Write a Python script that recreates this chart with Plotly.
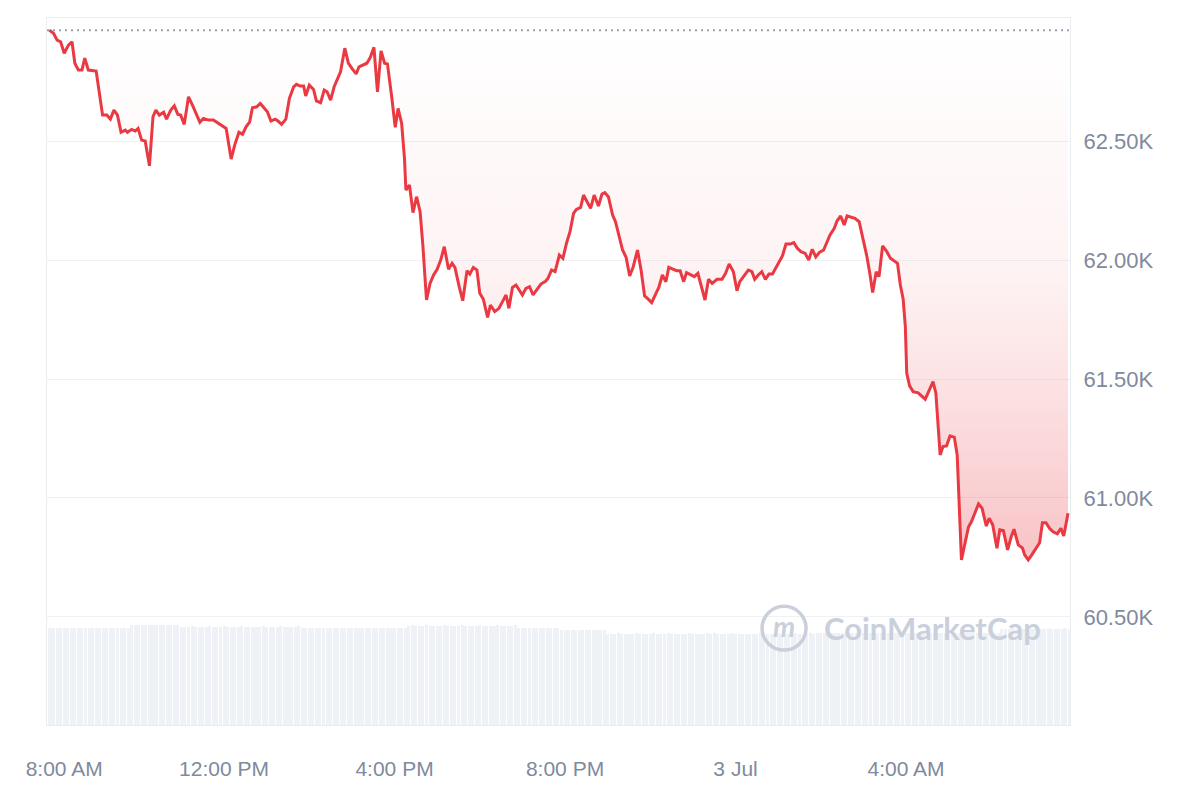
import numpy as np
import plotly.graph_objects as go

# ---- data ----
# minutes relative to 2 Jul 08:00
minutes = [
    -6, 0, 5, 10, 15, 21, 26, 30, 35, 40,
    44, 49, 60, 69, 75, 80, 85, 90, 95, 101,
    104, 110, 115, 119, 124, 129, 135, 140, 144, 149,
    155, 159, 165, 170, 175, 179, 184, 190, 196, 202,
    206, 211, 218, 225, 232, 238, 243, 250, 255, 261,
    266, 271, 276, 280, 286, 291, 296, 301, 306, 312,
    316, 321, 327, 332, 338, 342, 347, 352, 355, 360,
    366, 370, 376, 381, 385, 390, 395, 399, 404, 410,
    415, 420, 426, 430, 435, 441, 446, 451, 456, 461,
    466, 470, 476, 481, 485, 490, 494, 496, 501, 506,
    511, 516, 520, 525, 530, 535, 540, 545, 550, 556,
    561, 565, 571, 576, 582, 586, 591, 596, 600, 605,
    611, 615, 621, 627, 632, 637, 641, 646, 651, 656,
    660, 665, 670, 675, 681, 686, 692, 696, 701, 706,
    712, 717, 722, 727, 732, 736, 742, 746, 751, 756,
    761, 767, 772, 776, 781, 787, 791, 796, 801, 806,
    811, 816, 822, 827, 832, 836, 842, 848, 852, 857,
    862, 866, 872, 877, 882, 887, 891, 897, 902, 907,
    911, 917, 922, 927, 934, 941, 946, 951, 957, 962,
    966, 972, 978, 983, 987, 992, 997, 1002, 1007, 1012,
    1017, 1022, 1026, 1031, 1037, 1042, 1047, 1052, 1058, 1063,
    1068, 1073, 1078, 1084, 1089, 1093, 1099, 1103, 1108, 1113,
    1117, 1122, 1128, 1134, 1139, 1145, 1149, 1153, 1158, 1162,
    1167, 1173, 1178, 1183, 1188, 1192, 1196, 1199, 1201, 1205,
    1210, 1217, 1222, 1227, 1231, 1238, 1242, 1244, 1248, 1252,
    1257, 1262, 1268, 1272, 1275, 1278, 1283, 1288, 1292, 1297,
    1302, 1307, 1313, 1317, 1322, 1328, 1332, 1337, 1343, 1348,
    1352, 1358, 1364, 1367, 1372, 1377, 1382, 1388, 1392, 1397,
    1402, 1407, 1413, 1418, 1422, 1428,
]

price = [
    62966, 62953, 62924, 62917, 62869, 62903, 62917, 62827, 62798, 62798,
    62848, 62798, 62794, 62609, 62609, 62592, 62630, 62609, 62537, 62546,
    62537, 62549, 62542, 62553, 62504, 62500, 62396, 62602, 62630, 62609,
    62621, 62592, 62630, 62648, 62612, 62609, 62570, 62686, 62648, 62609,
    62579, 62595, 62588, 62588, 62574, 62564, 62553, 62424, 62483, 62537,
    62528, 62560, 62579, 62640, 62644, 62658, 62640, 62623, 62584, 62592,
    62584, 62570, 62592, 62679, 62728, 62738, 62731, 62731, 62689, 62735,
    62717, 62669, 62661, 62714, 62707, 62672, 62728, 62756, 62791, 62890,
    62827, 62805, 62782, 62812, 62819, 62827, 62852, 62894, 62707, 62879,
    62827, 62824, 62686, 62558, 62637, 62574, 62427, 62294, 62315, 62199,
    62266, 62203, 62056, 61832, 61902, 61937, 61961, 62000, 62056, 61961,
    61986, 61969, 61888, 61829, 61955, 61941, 61969, 61958, 61860, 61835,
    61759, 61811, 61783, 61797, 61825, 61853, 61797, 61885, 61895, 61874,
    61853, 61881, 61888, 61853, 61877, 61899, 61909, 61923, 61958, 61951,
    62021, 62007, 62070, 62119, 62196, 62213, 62221, 62273, 62245, 62217,
    62273, 62227, 62277, 62283, 62266, 62189, 62161, 62105, 62042, 62011,
    61933, 61972, 62042, 61958, 61849, 61839, 61821, 61860, 61885, 61937,
    61909, 61969, 61961, 61955, 61955, 61909, 61947, 61937, 61930, 61944,
    61895, 61832, 61919, 61902, 61919, 61919, 61944, 61983, 61951, 61871,
    61909, 61933, 61958, 61951, 61919, 61937, 61951, 61919, 61941, 61941,
    61969, 62000, 62017, 62067, 62067, 62073, 62049, 62035, 62028, 62000,
    62045, 62013, 62032, 62042, 62077, 62105, 62133, 62165, 62185, 62147,
    62185, 62179, 62175, 62161, 62098, 62014, 61944, 61863, 61951, 61930,
    62059, 62035, 62007, 61997, 61986, 61895, 61835, 61720, 61524, 61471,
    61447, 61442, 61429, 61415, 61442, 61489, 61440, 61342, 61181, 61216,
    61219, 61261, 61255, 61181, 60978, 60740, 60810, 60879, 60900, 60942,
    60975, 60957, 60882, 60915, 60887, 60789, 60866, 60863, 60782, 60837,
    60869, 60803, 60789, 60761, 60740, 60761, 60784, 60812, 60896, 60896,
    60873, 60858, 60849, 60873, 60840, 60936,
]

open_price = 62966

# 24h volume (billions USD), one bar per 5 minutes starting at 07:55
volume_bn = [
    27.4, 27.3, 27.4, 27.5, 27.4, 27.3, 27.4, 27.4, 27.5, 27.3,
    27.4, 27.4, 27.3, 27.4, 27.5, 27.4, 27.3, 27.4, 27.4, 27.5,
    27.4, 27.3, 27.4,
    28.2, 28.3, 28.4, 28.3, 28.2, 28.3, 28.3, 28.4, 28.3, 28.2,
    28.3, 28.3, 28.4, 28.3,
    27.8, 27.7, 27.8, 27.9, 27.8, 27.7, 27.8, 27.8, 27.9, 27.8,
    27.7, 27.8, 27.9, 27.8, 27.8, 27.7, 27.8, 27.9, 27.8, 27.8,
    27.7, 27.8, 27.8, 27.9, 27.8, 27.7, 27.8, 27.8, 27.9, 27.8,
    27.7, 27.8, 27.8, 27.9,
    27.4, 27.3, 27.4, 27.5, 27.4, 27.4, 27.3, 27.4, 27.5, 27.4,
    27.3, 27.4, 27.4, 27.5, 27.4, 27.3, 27.4, 27.4, 27.5, 27.4,
    27.3, 27.4, 27.4, 27.5, 27.4, 27.3, 27.4, 27.4, 27.5, 27.4,
    28.1, 28.2, 28.1, 28.0, 28.1, 28.2, 28.1, 28.1, 28.0, 28.1,
    28.2, 28.1, 28.1, 28.0, 28.1, 28.2, 28.1, 28.1, 28.0, 28.1,
    28.2, 28.1, 28.1, 28.0, 28.1, 28.2, 28.1, 28.1, 28.0, 28.1,
    28.2,
    27.4, 27.3, 27.4, 27.5, 27.4, 27.3, 27.4, 27.4, 27.5, 27.4,
    27.3, 27.4,
    26.9, 26.8, 26.9, 27.0, 26.9, 26.8, 26.9, 26.9, 27.0, 26.9,
    26.8, 26.9, 26.9,
    25.8, 25.7, 25.8, 25.9, 25.8, 25.8, 25.7, 25.8, 25.9, 25.8,
    25.7, 25.8, 25.8, 25.9, 25.8, 25.7, 25.8, 25.9, 25.8, 25.8,
    25.8, 25.7, 25.8, 25.9, 25.8, 25.8, 25.7, 25.8, 25.9, 25.8,
    25.9, 25.8, 25.7, 25.8, 25.8, 25.9, 25.8, 25.7, 25.8, 25.8,
    25.8, 25.7, 25.8, 25.9, 25.8, 25.8, 25.7, 25.8, 25.9, 25.8,
    25.7, 25.8, 25.8, 25.9, 25.8, 25.7, 25.8, 25.9, 25.8, 25.9,
    26.0, 25.9, 26.0, 26.1, 26.0, 26.0, 25.9, 26.0, 26.1, 26.0,
    25.9, 26.0, 26.0, 26.1, 26.0, 25.9, 26.0, 26.1, 26.0, 26.0,
    26.0, 25.9, 26.0, 26.1, 26.0, 26.0, 25.9, 26.0, 26.1, 26.0,
    26.1, 26.0, 25.9, 26.0, 26.0, 26.1, 26.0, 25.9, 26.0, 26.0,
    26.0, 25.9, 26.0, 26.1, 26.0, 26.0, 25.9, 26.0, 26.1, 26.0,
    26.0,
    27.2, 27.1, 27.2, 27.3, 27.2, 27.2, 27.1, 27.2, 27.3, 27.2,
    27.2, 27.1, 27.2, 27.3, 27.2, 27.2, 27.1, 27.2, 27.3, 27.2,
]
volume_start_min = -5
volume_step_min = 5

tick_minutes = [15, 240, 480, 720, 960, 1200]
tick_labels = ["8:00 AM", "12:00 PM", "4:00 PM", "8:00 PM", "3 Jul", "4:00 AM"]
price_ticks = [60500, 61000, 61500, 62000, 62500]
price_tick_labels = ["60.50K", "61.00K", "61.50K", "62.00K", "62.50K"]

# ---- figure ----
RED = "#ea3943"
GRAY_TXT = "#808a9d"
WM = "#c9d0dc"
vol_x = volume_start_min + volume_step_min * np.arange(len(volume_bn))

fig = go.Figure()

fig.add_trace(go.Bar(
    x=vol_x, y=volume_bn, yaxis="y2", width=4.3,
    marker=dict(color="#eef1f5", line=dict(width=0)),
    hoverinfo="skip", showlegend=False,
))

# baseline (open price) used as the edge of the filled area
fig.add_trace(go.Scatter(
    x=[minutes[0], minutes[-1]], y=[open_price, open_price],
    mode="lines", line=dict(width=0, color="rgba(0,0,0,0)"),
    hoverinfo="skip", showlegend=False,
))

fig.add_trace(go.Scatter(
    x=minutes, y=price, mode="lines",
    line=dict(color=RED, width=3),
    fill="tonexty",
    fillgradient=dict(
        type="vertical",
        colorscale=[
            [0.0, "rgba(234,57,67,0.30)"],
            [0.3, "rgba(234,57,67,0.16)"],
            [0.55, "rgba(234,57,67,0.06)"],
            [1.0, "rgba(234,57,67,0.0)"],
        ],
        start=min(price), stop=open_price,
    ),
    showlegend=False,
))

# dotted open-price reference line across the chart
fig.add_shape(type="line", xref="paper", x0=0, x1=1, yref="y",
              y0=open_price, y1=open_price,
              line=dict(color="#9aa1ae", width=2, dash="2px,4px"))

# watermark
fig.add_shape(type="circle", xref="paper", yref="paper",
              x0=0.699, x1=0.742, y0=0.106, y1=0.168,
              line=dict(color=WM, width=3.5))
fig.add_annotation(xref="paper", yref="paper", x=0.7205, y=0.140,
                   xanchor="center", yanchor="middle",
                   text="<b><i>m</i></b>", showarrow=False,
                   font=dict(family="Lato", size=28, color=WM))
fig.add_annotation(xref="paper", yref="paper", x=0.866, y=0.137,
                   xanchor="center", yanchor="middle",
                   text="<b>CoinMarketCap</b>", showarrow=False,
                   font=dict(family="Lato", size=31, color=WM))

fig.update_layout(
    width=1200, height=800,
    margin=dict(l=39, r=138, t=10, b=83),
    paper_bgcolor="white", plot_bgcolor="white",
    showlegend=False,
    bargap=0,
    font=dict(family="Liberation Sans", color=GRAY_TXT),
    xaxis=dict(
        range=[-9.2, 1430.8], showgrid=False, zeroline=False,
        tickmode="array", tickvals=tick_minutes, ticktext=tick_labels,
        tickfont=dict(size=21, color=GRAY_TXT), ticks="",
        ticklabelstandoff=25,
        showline=True, linecolor="#e9ecf0", linewidth=1, mirror=True,
    ),
    yaxis=dict(
        side="right", range=[60046, 63017], zeroline=False,
        tickmode="array", tickvals=price_ticks, ticktext=price_tick_labels,
        tickfont=dict(size=22, color=GRAY_TXT), ticks="",
        ticklabelstandoff=8,
        showgrid=True, gridcolor="#eff1f4", gridwidth=1,
        showline=True, linecolor="#e9ecf0", linewidth=1, mirror=True,
    ),
    yaxis2=dict(overlaying="y", range=[0, 200], visible=False),
)

fig.write_html("out.html")
